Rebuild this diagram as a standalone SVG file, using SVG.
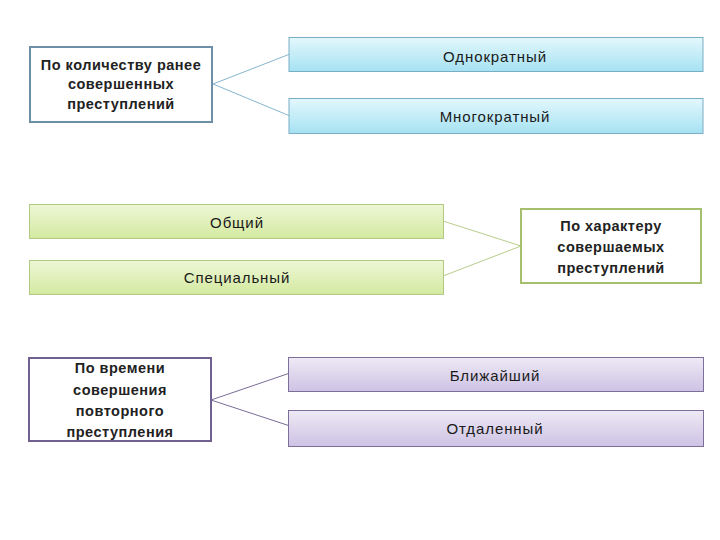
<svg xmlns="http://www.w3.org/2000/svg" width="720" height="540" viewBox="0 0 720 540">
<defs>
<linearGradient id="gb" x1="0" y1="0" x2="0" y2="1"><stop offset="0" stop-color="#e3f7fc"/><stop offset="1" stop-color="#a6e2f3"/></linearGradient>
<linearGradient id="gg" x1="0" y1="0" x2="0" y2="1"><stop offset="0" stop-color="#eef6d6"/><stop offset="1" stop-color="#d3eaa0"/></linearGradient>
<linearGradient id="gp" x1="0" y1="0" x2="0" y2="1"><stop offset="0" stop-color="#eeeaf5"/><stop offset="1" stop-color="#cdc2e4"/></linearGradient>
<style>
.t{font-family:"Liberation Sans",Arial,sans-serif;font-size:15px;fill:#1a1a1a;text-anchor:middle;letter-spacing:0.9px}
.b{font-weight:bold;font-size:14.5px;letter-spacing:0.5px;fill:#222}
.hb{fill:#fff;stroke:#6e8fa8;stroke-width:2}
.hg{fill:#fff;stroke:#a6bf6e;stroke-width:2}
.hp{fill:#fff;stroke:#6f6090;stroke-width:2}
.cb{fill:url(#gb);stroke:#7aaec4;stroke-width:1}
.cg{fill:url(#gg);stroke:#b2c985;stroke-width:1}
.cp{fill:url(#gp);stroke:#7d6f99;stroke-width:1}
.lb{stroke:#86b6cb;stroke-width:1;fill:none}
.lg{stroke:#b8cd8a;stroke-width:1;fill:none}
.lp{stroke:#7a6b96;stroke-width:1;fill:none}
</style>
</defs>
<rect width="720" height="540" fill="#fff"/>
<g id="connectors">
<path class="lb" d="M213 84 L290 54 M213 84 L290 116"/>
<path class="lg" d="M443 221 L521 246 M443 276 L521 246"/>
<path class="lp" d="M211 400 L290 373 M211 400 L290 426"/>
</g>
<g id="n1"><rect class="hb" x="30" y="47" width="182" height="75"/>
<text class="t b" x="121" y="70">По количеству ранее</text>
<text class="t b" x="121" y="89">совершенных</text>
<text class="t b" x="121" y="109">преступлений</text></g>
<g id="n2"><rect class="cb" x="289" y="37.5" width="414" height="34"/>
<text class="t" x="495" y="62">Однократный</text></g>
<g id="n3"><rect class="cb" x="289" y="98.5" width="414" height="35"/>
<text class="t" x="495" y="122">Многократный</text></g>
<g id="n4"><rect class="cg" x="29.5" y="204.5" width="414" height="34"/>
<text class="t" x="237" y="228">Общий</text></g>
<g id="n5"><rect class="cg" x="29.5" y="260.5" width="414" height="34"/>
<text class="t" x="237" y="283">Специальный</text></g>
<g id="n6"><rect class="hg" x="521" y="209" width="180" height="74"/>
<text class="t b" x="611" y="231">По характеру</text>
<text class="t b" x="611" y="252">совершаемых</text>
<text class="t b" x="611" y="273">преступлений</text></g>
<g id="n7"><rect class="hp" x="29" y="358" width="182" height="83"/>
<text class="t b" x="120" y="373">По времени</text>
<text class="t b" x="120" y="395">совершения</text>
<text class="t b" x="120" y="416">повторного</text>
<text class="t b" x="120" y="437">преступления</text></g>
<g id="n8"><rect class="cp" x="288.5" y="357.5" width="415" height="34"/>
<text class="t" x="495" y="381">Ближайший</text></g>
<g id="n9"><rect class="cp" x="288.5" y="410.5" width="415" height="36"/>
<text class="t" x="495" y="434">Отдаленный</text></g>
</svg>
